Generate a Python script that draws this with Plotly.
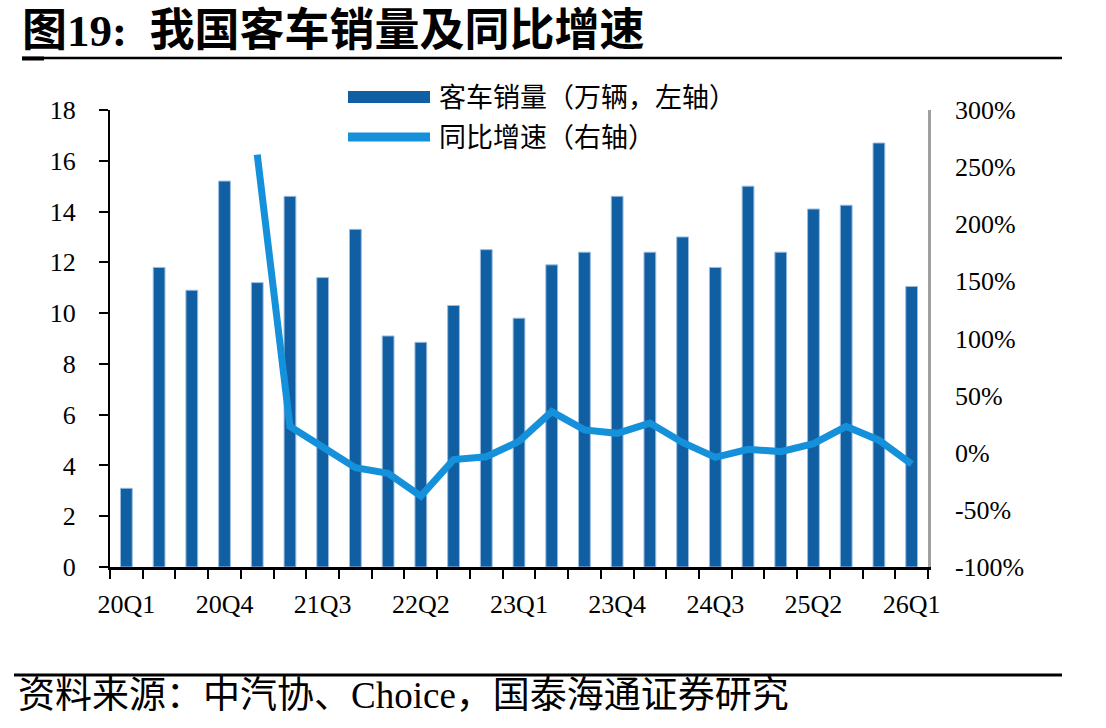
import plotly.graph_objects as go

quarters = ["20Q1", "20Q2", "20Q3", "20Q4", "21Q1", "21Q2", "21Q3", "21Q4",
            "22Q1", "22Q2", "22Q3", "22Q4", "23Q1", "23Q2", "23Q3", "23Q4",
            "24Q1", "24Q2", "24Q3", "24Q4", "25Q1", "25Q2", "25Q3", "25Q4", "26Q1"]
sales = [3.1, 11.8, 10.9, 15.2, 11.2, 14.6, 11.4, 13.3,
         9.1, 8.85, 10.3, 12.5, 9.8, 11.9, 12.4, 14.6,
         12.4, 13.0, 11.8, 15.0, 12.4, 14.1, 14.25, 16.7, 11.05]
yoy_pct = [None, None, None, None, 261, 23, 5, -13,
           -18, -38, -6, -3.5, 10, 36, 20, 17,
           26, 9, -4, 3, 1, 8, 23, 11, -10]
label_quarters = quarters[::3]
left_ticks = [0, 2, 4, 6, 8, 10, 12, 14, 16, 18]
right_ticks = [-1, -0.5, 0, 0.5, 1, 1.5, 2, 2.5, 3]
right_labels = ["-100%", "-50%", "0%", "50%", "100%", "150%", "200%", "250%", "300%"]

title_text = "图19:  我国客车销量及同比增速"
source_text = "资料来源：中汽协、Choice，国泰海通证券研究"
bar_name = "客车销量（万辆，左轴）"
line_name = "同比增速（右轴）"

BAR = "#115FA3"
LINE = "#1591DB"
SERIF = "Liberation Serif, Times New Roman, Noto Sans CJK SC, serif"
CJK = "Liberation Serif, Noto Sans CJK SC, sans-serif"

W, H = 1106, 728
L, R, T, B = 110, 178, 110, 161
pw, ph = W - L - R, H - T - B

def px(x):
    return (x - L) / pw

def py(y):
    return (H - B - y) / ph

idx = list(range(len(quarters)))
yoy = [None if v is None else v / 100 for v in yoy_pct]

fig = go.Figure()
fig.add_trace(go.Bar(
    x=idx, y=sales, name=bar_name, width=0.36,
    marker=dict(color=BAR, line=dict(color="#9BBCE0", width=1)),
    showlegend=False,
))
fig.add_trace(go.Scatter(
    x=idx, y=yoy, name=line_name, yaxis="y2", mode="lines",
    line=dict(color=LINE, width=7), connectgaps=False,
    showlegend=False,
))

fig.update_layout(
    width=W, height=H,
    margin=dict(l=L, r=R, t=T, b=B, pad=0),
    paper_bgcolor="white", plot_bgcolor="white",
    font=dict(family=SERIF, size=25, color="black"),
    xaxis=dict(
        range=[-0.5, len(quarters) - 0.5],
        tickmode="array", tickvals=idx[::3], ticktext=label_quarters,
        ticks="", showgrid=False, zeroline=False,
        showline=True, linecolor="black", linewidth=2.5,
        tickfont=dict(family=SERIF, size=26),
        ticklabelstandoff=12,
        minor=dict(tickmode="array",
                   tickvals=[i - 0.5 for i in range(len(quarters) + 1)],
                   ticks="outside", ticklen=9, tickwidth=2, tickcolor="black",
                   showgrid=False),
    ),
    yaxis=dict(
        range=[0, 18], tickmode="array", tickvals=left_ticks,
        ticks="outside", ticklen=9, tickwidth=2, tickcolor="black",
        showgrid=False, zeroline=False,
        showline=True, linecolor="black", linewidth=2,
        tickfont=dict(family=SERIF, size=26),
        ticklabelstandoff=18,
    ),
    yaxis2=dict(
        range=[-1, 3], tickmode="array", tickvals=right_ticks,
        ticktext=right_labels, overlaying="y", side="right",
        ticks="", showgrid=False, zeroline=False,
        showline=True, linecolor="#A0A0A0", linewidth=2.5,
        tickfont=dict(family=SERIF, size=26),
        ticklabelstandoff=19,
    ),
    shapes=[
        dict(type="line", xref="paper", yref="paper",
             x0=px(22), x1=px(1062), y0=py(58), y1=py(58),
             line=dict(color="black", width=2.5)),
        dict(type="line", xref="paper", yref="paper",
             x0=px(22), x1=px(44), y0=py(58.5), y1=py(58.5),
             line=dict(color="black", width=4)),
        dict(type="line", xref="paper", yref="paper",
             x0=px(14), x1=px(1062), y0=py(675), y1=py(675),
             line=dict(color="black", width=3)),
        dict(type="rect", xref="paper", yref="paper",
             x0=px(348), x1=px(430), y0=py(103), y1=py(91),
             fillcolor=BAR, line=dict(width=0)),
        dict(type="line", xref="paper", yref="paper",
             x0=px(348), x1=px(430), y0=py(137), y1=py(137),
             line=dict(color=LINE, width=9)),
    ],
    annotations=[
        dict(text="<b>" + title_text + "</b>", xref="paper", yref="paper",
             x=px(20), y=py(31), xanchor="left", yanchor="middle",
             showarrow=False, font=dict(family=CJK, size=45, color="black")),
        dict(text=source_text, xref="paper", yref="paper",
             x=px(16), y=py(695), xanchor="left", yanchor="middle",
             showarrow=False, font=dict(family=CJK, size=37, color="black")),
        dict(text=bar_name, xref="paper", yref="paper",
             x=px(437), y=py(98), xanchor="left", yanchor="middle",
             showarrow=False, font=dict(family=CJK, size=27, color="black")),
        dict(text=line_name, xref="paper", yref="paper",
             x=px(437), y=py(138), xanchor="left", yanchor="middle",
             showarrow=False, font=dict(family=CJK, size=27, color="black")),
    ],
)

fig.write_html("out.html")
